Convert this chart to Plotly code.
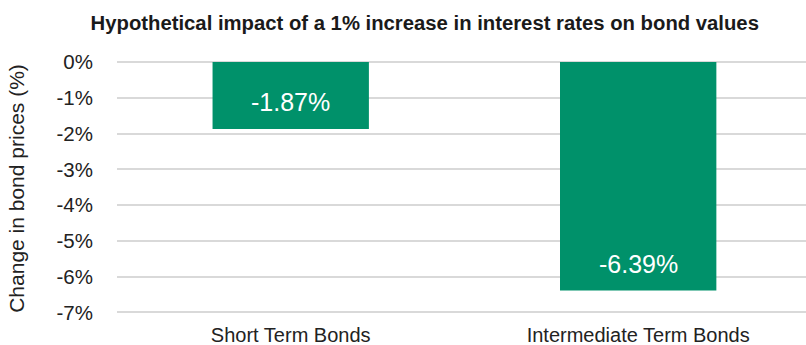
import plotly.graph_objects as go

categories = ["Short Term Bonds", "Intermediate Term Bonds"]
values = [-1.87, -6.39]
y_ticks = [0, -1, -2, -3, -4, -5, -6, -7]
y_tick_labels = [f"{t}%" for t in y_ticks]

GREEN = "#00916A"
FONT = "Liberation Sans, Arial, Helvetica, sans-serif"

fig = go.Figure()
fig.add_trace(go.Bar(
    x=categories, y=values,
    marker=dict(color=GREEN, line=dict(width=0)),
    hoverinfo="skip",
))
for c, v in zip(categories, values):
    fig.add_annotation(x=c, y=v, text=f"{v:.2f}%", showarrow=False,
                       yshift=27, yanchor="middle",
                       font=dict(family=FONT, size=25, color="white"))

fig.update_layout(
    width=806, height=345,
    margin=dict(l=117, r=0, t=61, b=29),
    paper_bgcolor="white", plot_bgcolor="white",
    bargap=0.55,
    showlegend=False,
    title=dict(text="<b>Hypothetical impact of a 1% increase in interest rates on bond values</b>",
               x=0.527, xanchor="center", y=0.935, yanchor="middle",
               font=dict(family=FONT, size=20.3, color="#1a1a1a")),
    font=dict(family=FONT, color="#222222"),
)
fig.update_xaxes(
    range=[-0.5, 1.483], showgrid=False, zeroline=False, showline=False,
    ticks="outside", ticklen=1, tickcolor="rgba(0,0,0,0)",
    tickfont=dict(family=FONT, size=20, color="#222222"),
    automargin=False,
)
fig.update_yaxes(
    range=[-7.1, 0.03], tickvals=y_ticks, ticktext=y_tick_labels,
    showgrid=True, gridcolor="#D9D9D9", gridwidth=2,
    zeroline=False, showline=False,
    ticks="outside", ticklen=19, tickcolor="rgba(0,0,0,0)",
    tickfont=dict(family=FONT, size=20.5, color="#222222"),
    title=dict(text="Change in bond prices (%)", standoff=26,
               font=dict(family=FONT, size=21, color="#222222")),
    automargin=False,
)
fig.write_html("out.html")
